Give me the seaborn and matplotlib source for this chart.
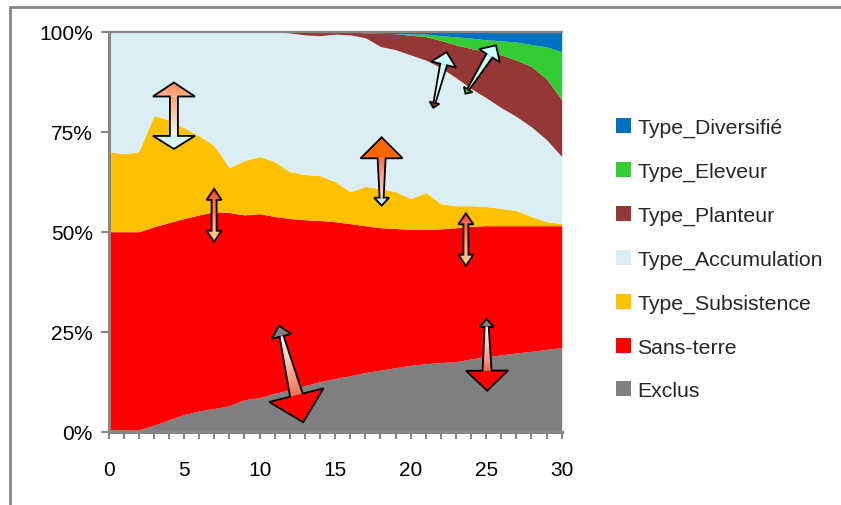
import numpy as np
import pandas as pd
import matplotlib
matplotlib.use("Agg")
import matplotlib.pyplot as plt
import seaborn as sns
from matplotlib.patches import Polygon, Patch
from matplotlib.colors import LinearSegmentedColormap
from matplotlib.lines import Line2D
from matplotlib.ticker import MultipleLocator, PercentFormatter

steps = list(range(31))

exclus = [0.5, 0.5, 0.5, 1.6, 3.0, 4.3, 5.2, 5.8, 6.5, 8.0, 8.5, 9.6, 10.5, 11.5, 12.5, 13.3,
          14.0, 14.8, 15.4, 16.0, 16.6, 17.0, 17.3, 17.5, 18.2, 18.8, 19.2, 19.7, 20.1, 20.6, 21.0]
sans_terre = [49.5, 49.5, 49.5, 49.6, 49.3, 49.0, 49.0, 49.2, 48.3, 46.2, 46.0, 44.2, 42.8, 41.5, 40.3, 39.2,
              38.0, 36.7, 35.6, 34.8, 34.0, 33.6, 33.4, 33.5, 33.1, 32.7, 32.3, 31.8, 31.4, 30.9, 30.5]
subsistence = [20.0, 19.5, 20.0, 27.8, 25.7, 22.7, 19.8, 16.5, 11.2, 13.6, 14.3, 13.7, 11.7, 11.3, 11.2, 10.0,
               8.0, 9.8, 9.8, 9.2, 7.7, 9.2, 6.3, 5.5, 5.2, 4.8, 4.3, 3.8, 2.3, 1.0, 0.5]
accumulation = [30.0, 30.5, 30.0, 21.0, 22.0, 24.0, 26.0, 28.5, 34.0, 32.3, 31.2, 32.5, 34.7, 34.9, 35.0, 36.9,
                39.2, 37.2, 35.5, 35.5, 35.9, 33.1, 34.0, 32.0, 29.3, 27.2, 25.2, 23.5, 22.4, 20.5, 16.8]
planteur = [0, 0, 0, 0, 0, 0, 0, 0, 0, 0, 0, 0, 0.3, 0.8, 1.0, 0.6,
            0.8, 1.2, 3.3, 4.0, 4.9, 5.9, 6.8, 8.2, 10.0, 11.5, 13.2, 14.1, 15.1, 15.2, 14.2]
eleveur = [0, 0, 0, 0, 0, 0, 0, 0, 0, 0, 0, 0, 0, 0, 0, 0,
           0, 0, 0, 0, 0.3, 0.6, 1.2, 2.0, 2.6, 3.0, 3.5, 4.5, 5.5, 8.0, 12.0]
diversifie = [0, 0, 0, 0, 0, 0, 0, 0, 0, 0, 0, 0, 0, 0, 0, 0,
              0, 0.3, 0.4, 0.5, 0.6, 0.7, 1.0, 1.3, 1.6, 2.0, 2.3, 2.6, 3.2, 3.8, 5.0]

series_names = ["Exclus", "Sans-terre", "Type_Subsistence", "Type_Accumulation",
                "Type_Planteur", "Type_Eleveur", "Type_Diversifié"]
series_colors = ["#808080", "#FF0000", "#FFC000", "#DAEEF3", "#953735", "#33CC33", "#0070C0"]

df = pd.DataFrame({
    "Exclus": exclus,
    "Sans-terre": sans_terre,
    "Type_Subsistence": subsistence,
    "Type_Accumulation": accumulation,
    "Type_Planteur": planteur,
    "Type_Eleveur": eleveur,
    "Type_Diversifié": diversifie,
}, index=steps)

# annotation arrows: two ends in data coords, head sizes in pixels
arrows = [
    dict(p0=(4.33, 87.3), p1=(4.33, 70.7), h0=(14, 21, ("#FF9060", "#FFB088")), h1=(13, 21, ("#E8FFFF", "#CFF8F8")),
         w=(8, 8), shaft=("#FFA070", "#E8FFFF")),
    dict(p0=(6.99, 60.7), p1=(6.99, 47.5), h0=(11, 7.5, ("#FF3020", "#FF7050")), h1=(11, 7.5, ("#FFD090", "#FFC080")),
         w=(5, 5), shaft=("#FF6040", "#FFC890")),
    dict(p0=(18.08, 73.6), p1=(18.08, 56.5), h0=(21, 21, ("#FF6600", "#FF6600")), h1=(8, 7.5, ("#B8F0EC", "#B8F0EC")),
         w=(8, 4), shaft=("#F07060", "#FFE0D8")),
    dict(p0=(23.66, 54.6), p1=(23.66, 41.5), h0=(11, 7.5, ("#FF3020", "#FF7050")), h1=(11, 7.5, ("#FFD090", "#FFC080")),
         w=(5, 5), shaft=("#FF6040", "#FFC890")),
    dict(p0=(11.28, 26.5), p1=(12.89, 2.35), h0=(11, 10, ("#808080", "#808080")), h1=(28, 28, ("#FF0000", "#FF0000")),
         w=(4, 13), shaft=("#FFFFFF", "#F07050")),
    dict(p0=(25.03, 28.2), p1=(25.07, 10.25), h0=(8, 7, ("#808080", "#808080")), h1=(20, 21, ("#FF0000", "#FF0000")),
         w=(4, 9), shaft=("#FFFFFF", "#F07050")),
    dict(p0=(22.38, 94.9), p1=(21.5, 81.0), h0=(12.7, 12.7, ("#CCFFFF", "#CCFFFF")), h1=(5, 5, ("#993300", "#993300")),
         w=(7, 2), shaft=("#CCFFFF", "#FFFFFF")),
    dict(p0=(25.65, 96.6), p1=(23.63, 84.5), h0=(12.3, 12.3, ("#CCFFFF", "#CCFFFF")), h1=(5, 5, ("#33CC33", "#33CC33")),
         w=(7, 2), shaft=("#CCFFFF", "#E0FFE0")),
]

W, H = 841, 506
sns.set_theme(style="white")
plt.rcParams["font.family"] = ["Liberation Sans", "DejaVu Sans"]
axis_grey = "#878787"

fig = plt.figure(figsize=(W / 100, H / 100), dpi=100)
ax = fig.add_axes([108.5 / W, 1 - 432.7 / H, 453.2 / W, 400 / H])

ax.stackplot(df.index, *[df[c] for c in series_names], colors=series_colors, linewidth=0)
ax.set_xlim(0, 30)
ax.set_ylim(0, 100)

ax.xaxis.set_major_locator(MultipleLocator(5))
ax.xaxis.set_minor_locator(MultipleLocator(1))
ax.yaxis.set_major_locator(MultipleLocator(25))
ax.yaxis.set_major_formatter(PercentFormatter(decimals=0))
ax.tick_params(axis="x", which="both", direction="out", length=4.8, width=1.5, color=axis_grey,
               pad=15.5, labelsize=15, labelcolor="black", bottom=True)
ax.tick_params(axis="y", which="both", direction="out", length=5.8, width=1.5, color=axis_grey,
               pad=5.5, labelsize=15, labelcolor="black", left=True)
ax.set_xlabel("")
ax.set_ylabel("")
ax.grid(False)
for side in ["left", "bottom"]:
    ax.spines[side].set_color(axis_grey)
    ax.spines[side].set_linewidth(2.2)
ax.spines["top"].set_color(axis_grey)
ax.spines["top"].set_linewidth(1.6)
ax.spines["right"].set_visible(False)

# outer chart frame (left and top edges)
fig.add_artist(Line2D([10 / W, 10 / W], [0, 1 - 8 / H], transform=fig.transFigure, color=axis_grey, lw=2))
fig.add_artist(Line2D([10 / W, 1], [1 - 8 / H, 1 - 8 / H], transform=fig.transFigure, color=axis_grey, lw=2))

handles = [Patch(facecolor=c, edgecolor="none", label=n) for n, c in zip(series_names, series_colors)][::-1]
fig.legend(handles=handles, loc="upper left", bbox_to_anchor=(616 / W, 1 - 119 / H), frameon=False,
           fontsize=15.3, handlelength=0.7, handleheight=0.7, handletextpad=0.3, labelspacing=1.16,
           borderpad=0, borderaxespad=0)

# overlay in pixel coordinates for the gradient arrows
oax = fig.add_axes([0, 0, 1, 1])
oax.axis("off")


def to_px(x, y):
    dx, dy = ax.transData.transform((x, y))
    return np.array([dx, H - dy])


def gradient_fill(pts, start, end, cols):
    pts = np.array(pts)
    patch = Polygon(pts, closed=True, facecolor="none", edgecolor="none")
    oax.add_patch(patch)
    x0, y0 = pts.min(axis=0) - 1
    x1, y1 = pts.max(axis=0) + 1
    gx, gy = np.meshgrid(np.linspace(x0, x1, 60), np.linspace(y0, y1, 60))
    d = end - start
    t = ((gx - start[0]) * d[0] + (gy - start[1]) * d[1]) / max(np.dot(d, d), 1e-9)
    cmap = LinearSegmentedColormap.from_list("g", list(cols))
    im = oax.imshow(np.clip(t, 0, 1), cmap=cmap, vmin=0, vmax=1, extent=(x0, x1, y0, y1),
                    origin="lower", interpolation="bilinear", aspect="auto")
    im.set_clip_path(patch)


for a in arrows:
    p0 = to_px(*a["p0"])
    p1 = to_px(*a["p1"])
    u = (p1 - p0) / np.linalg.norm(p1 - p0)
    n = np.array([-u[1], u[0]])
    l0, hw0, c0 = a["h0"]
    l1, hw1, c1 = a["h1"]
    w0, w1 = a["w"]
    sa = p0 + u * l0
    sb = p1 - u * l1
    gradient_fill([sa + n * w0 / 2, sb + n * w1 / 2, sb - n * w1 / 2, sa - n * w0 / 2], sa, sb, a["shaft"])
    gradient_fill([p0, sa + n * hw0, sa - n * hw0], p0, sa, c0)
    gradient_fill([p1, sb + n * hw1, sb - n * hw1], p1, sb, c1)
    outline = [p0, sa + n * hw0, sa + n * w0 / 2, sb + n * w1 / 2, sb + n * hw1, p1,
               sb - n * hw1, sb - n * w1 / 2, sa - n * w0 / 2, sa - n * hw0]
    oax.add_patch(Polygon(outline, closed=True, fill=False, edgecolor="black", lw=1.3, joinstyle="miter"))

oax.set_xlim(0, W)
oax.set_ylim(H, 0)

fig.savefig("out.png", dpi=100)
plt.close()
